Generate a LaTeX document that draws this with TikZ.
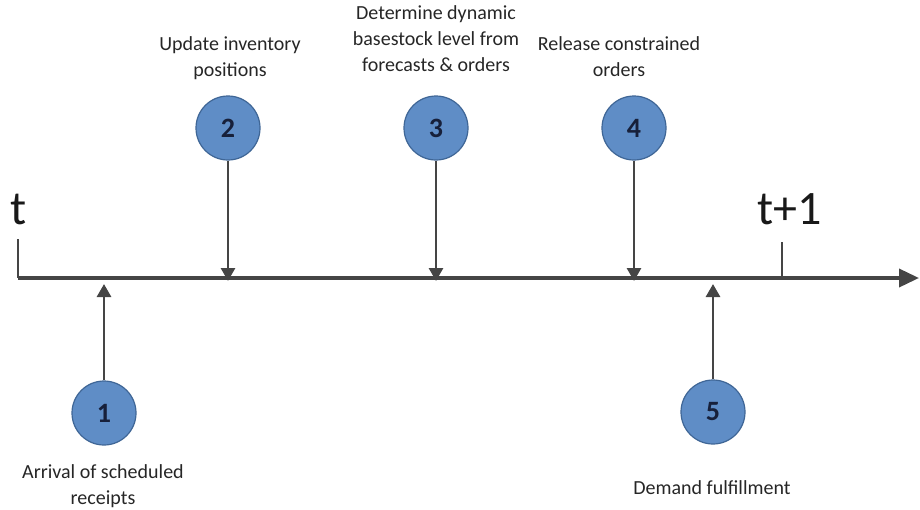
\documentclass[tikz,border=0pt]{standalone}
\usepackage{fontspec}
\setmainfont{Carlito}
\usetikzlibrary{arrows.meta}
\definecolor{ballfill}{HTML}{5F8DC6}
\definecolor{balledge}{HTML}{3F6696}
\definecolor{axisgray}{HTML}{454545}
\definecolor{numink}{HTML}{17203A}
\begin{document}
\begin{tikzpicture}[x=1pt,y=-1pt,
  ball/.style={circle,draw=balledge,line width=1.2pt,fill=ballfill,minimum size=64pt,inner sep=0pt,
    font=\fontsize{28}{28}\selectfont\bfseries,text=numink},
  caption/.style={align=center,font=\fontsize{20}{26}\selectfont,text=black!85},
  axis/.style={draw=axisgray,line width=3.6pt,-{Triangle[length=20pt,width=18pt]}},
  tick/.style={draw=axisgray,line width=2pt},
  pin/.style={draw=axisgray,line width=2.8pt,-{Triangle[length=13pt,width=14pt]}},
  bigtext/.style={font=\fontsize{48}{48}\selectfont,text=black!90}]
\useasboundingbox (0,0) rectangle (920,509);
% time axis and ticks
\coordinate (a0) at (18,278);
\coordinate (a1) at (919,278);
\draw[axis] (a0) -- (a1);
\coordinate (t0top) at (18,239);
\coordinate (t1top) at (782,242);
\coordinate (t1bot) at (782,278);
\draw[tick] (t0top) -- (a0);
\draw[tick] (t1top) -- (t1bot);
\node[bigtext,anchor=base] (tl) at (19,224) {t};
\node[bigtext,anchor=base] (tl1) at (790,224) {t+1};
% events above the axis
\node[ball] (b2) at (228,128) {2};
\node[ball] (b3) at (436,128) {3};
\node[ball] (b4) at (634,128) {4};
\coordinate (p2) at (228,281);
\coordinate (p3) at (436,281);
\coordinate (p4) at (634,281);
\draw[pin] (b2) -- (p2);
\draw[pin] (b3) -- (p3);
\draw[pin] (b4) -- (p4);
% events below the axis
\node[ball] (b1) at (104,413) {1};
\node[ball] (b5) at (713,412) {5};
\coordinate (p1) at (104,284);
\coordinate (p5) at (713,284);
\draw[pin] (b1) -- (p1);
\draw[pin] (b5) -- (p5);
% captions (base anchor sits on the last line)
\node[caption,anchor=base] (c2) at (230,76) {Update inventory\\positions};
\node[caption,anchor=base] (c3) at (436,71) {Determine dynamic\\basestock level from\\forecasts \& orders};
\node[caption,anchor=base] (c4) at (619,76) {Release constrained\\orders};
\node[caption,anchor=base] (c1) at (103,504) {Arrival of scheduled\\receipts};
\node[caption,anchor=base] (c5) at (712,494) {Demand fulfillment};
\end{tikzpicture}
\end{document}
